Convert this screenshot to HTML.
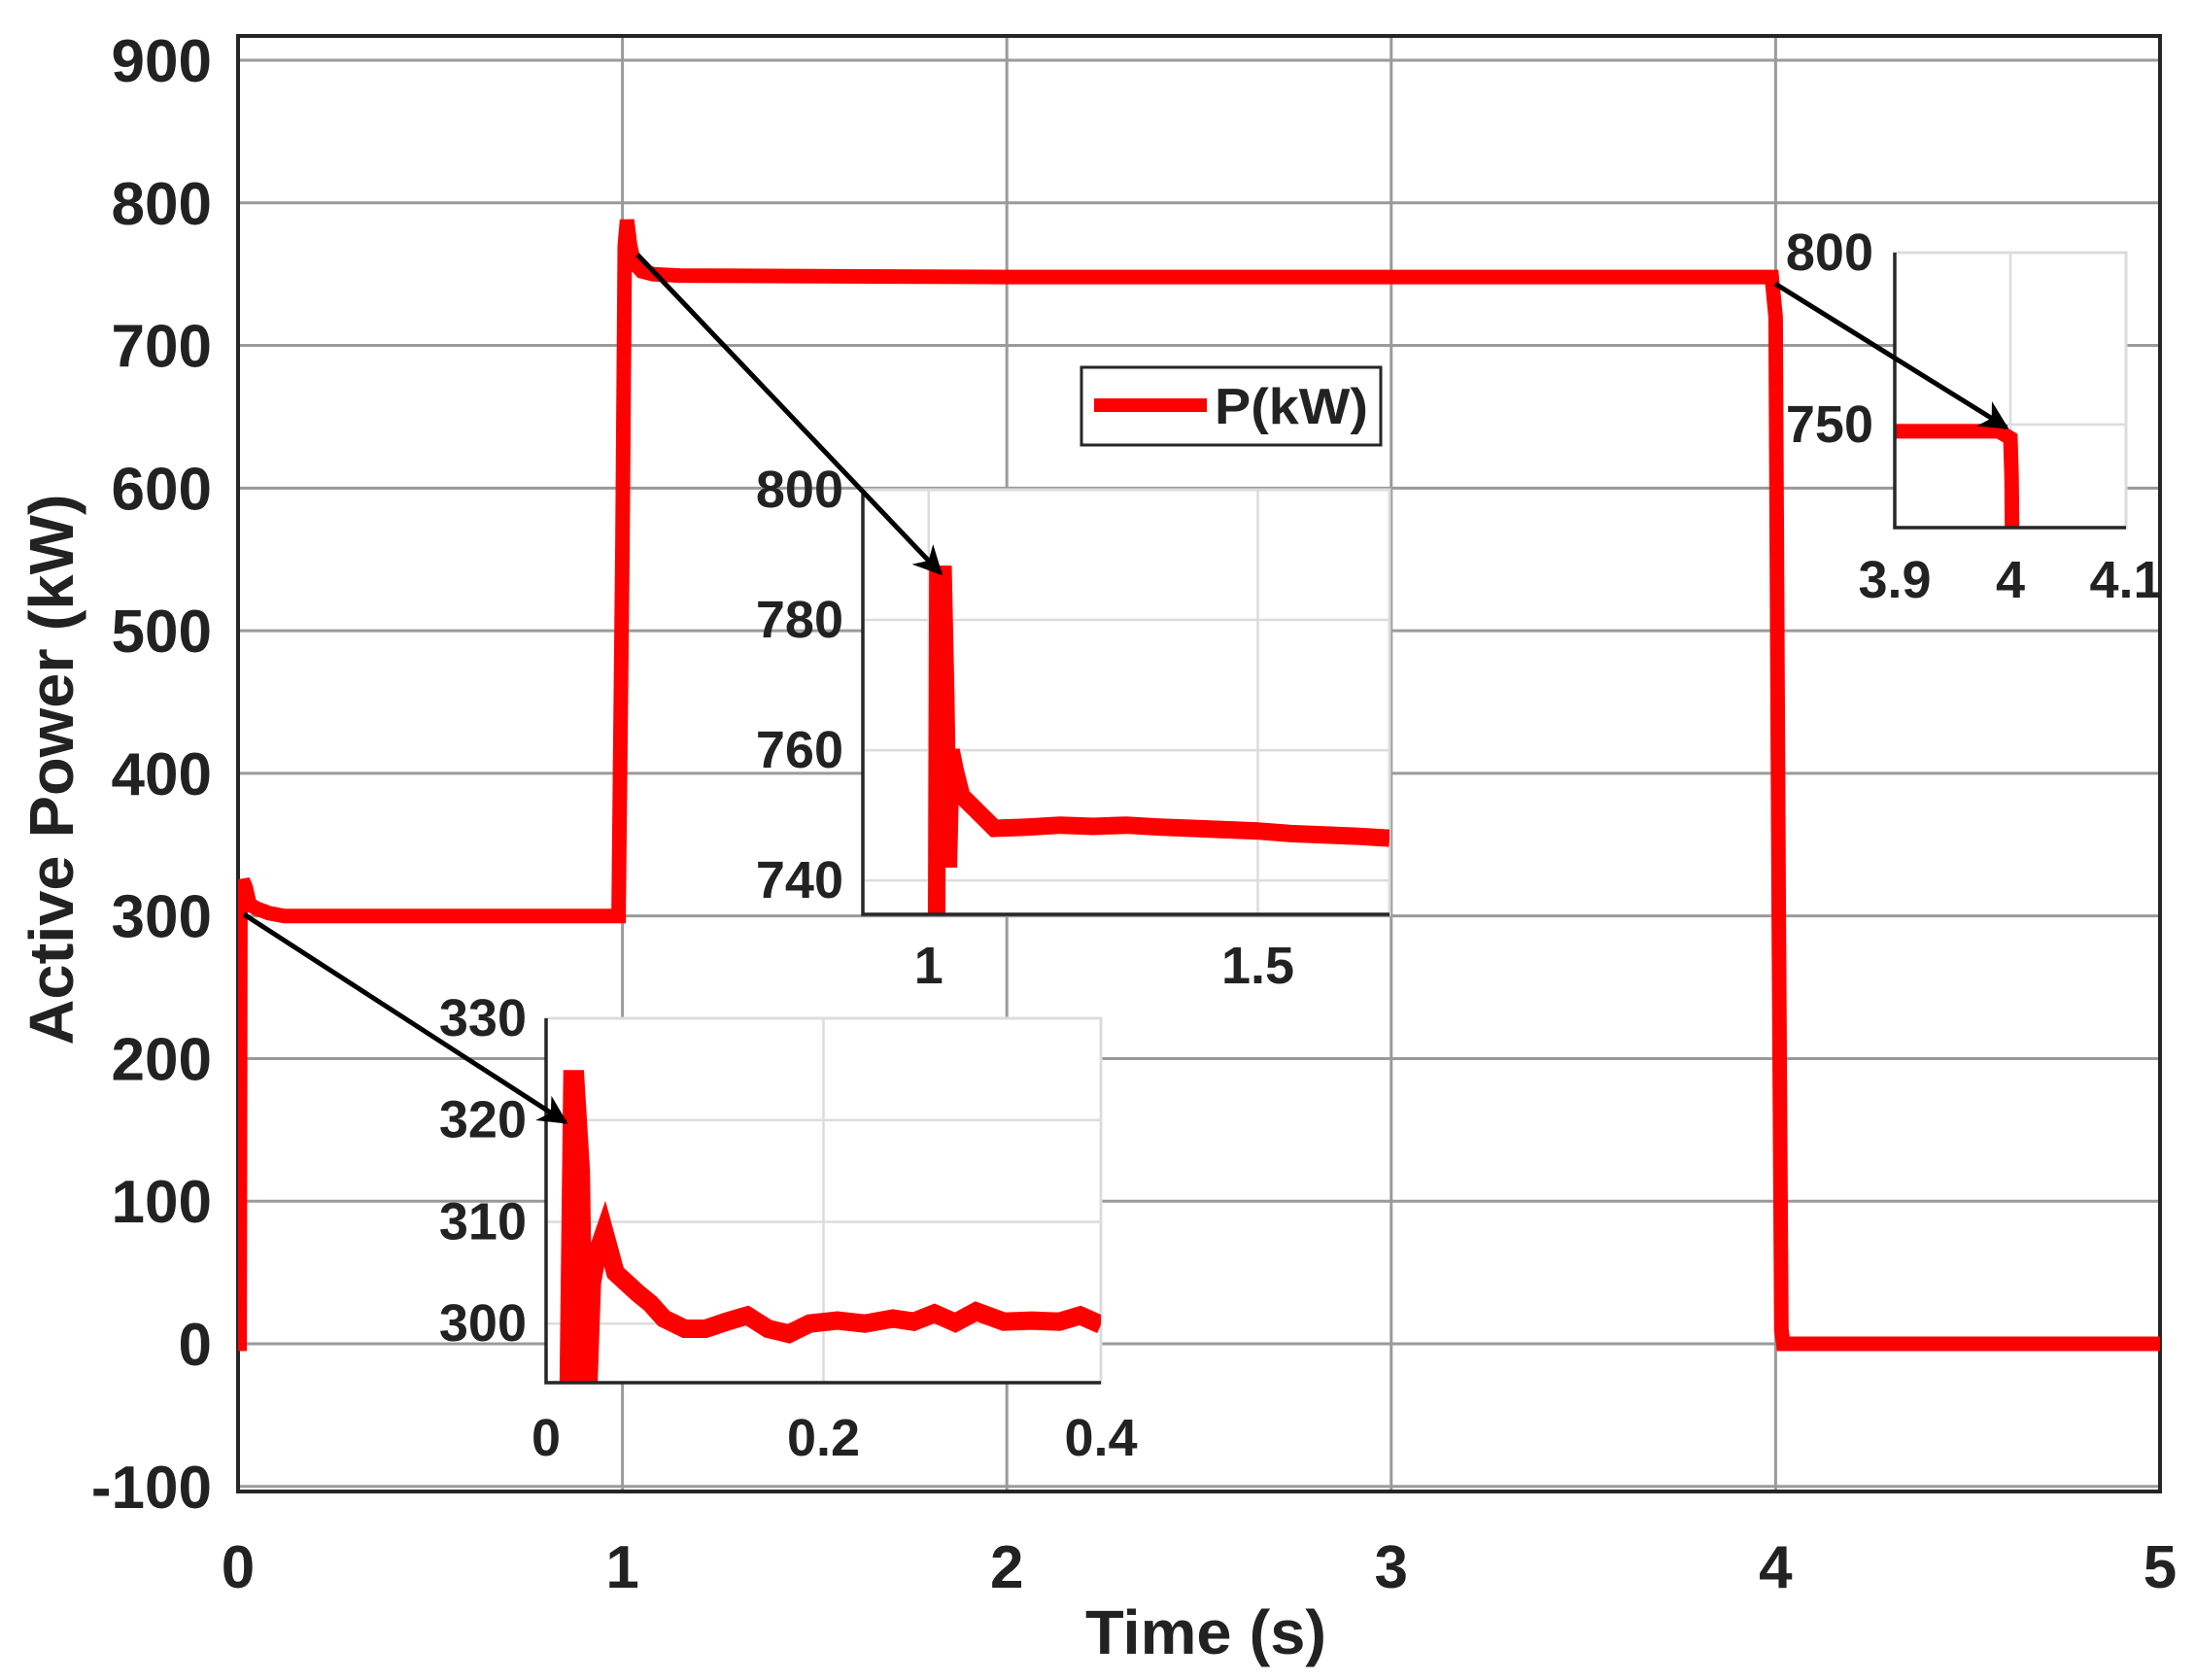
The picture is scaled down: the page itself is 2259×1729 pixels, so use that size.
<!DOCTYPE html>
<html><head><meta charset="utf-8"><style>
html,body{margin:0;padding:0;background:#fff}
svg{display:block}
text{font-family:"Liberation Sans",Arial,sans-serif;fill:#222}
</style></head><body>
<svg id="chart" width="2259" height="1729" viewBox="0 0 2259 1729" xmlns="http://www.w3.org/2000/svg">
<rect x="0" y="0" width="2259" height="1729" fill="#fff"/>
<defs>
<clipPath id="cMain"><rect x="245" y="37" width="1978" height="1498"/></clipPath>
<clipPath id="c1"><rect x="562" y="1048" width="571" height="375"/></clipPath>
<clipPath id="c2"><rect x="888" y="504" width="542" height="437"/></clipPath>
<clipPath id="c3"><rect x="1950" y="260" width="238" height="283"/></clipPath>
<marker id="arr" markerWidth="30" markerHeight="30" refX="9" refY="5" orient="auto" markerUnits="userSpaceOnUse" viewBox="0 0 10 10"><path d="M0,0 L10,5 L0,10 L3,5 Z" fill="#000"/></marker>
</defs>
<g id="layer"></g>
</svg>
<script>
// ---- main series data ----
const mainT = [0, 0.004, 0.006, 0.012, 0.02, 0.03, 0.05, 0.08, 0.12, 0.5, 0.99, 1.0, 1.006, 1.012, 1.02, 1.03, 1.05, 1.08, 1.15, 2.0, 3.0, 3.99, 4.0, 4.008, 4.015, 4.02, 5.0];
const mainP = [0, 0, 300, 325, 320, 308, 305, 302, 300, 300, 300, 560, 770, 788, 770, 758, 752, 750, 749, 748, 748, 748, 720, 300, 10, 0, 0];
const mainXTicks = [0, 1, 2, 3, 4, 5];
const mainYTicks = [-100, 0, 100, 200, 300, 400, 500, 600, 700, 800, 900];
// ---- inset 1 (0..0.4 s) ----
const in1T = [0.016, 0.019, 0.021, 0.025, 0.027, 0.03, 0.033, 0.037, 0.042, 0.046, 0.05, 0.058, 0.066, 0.075, 0.085, 0.1, 0.115, 0.13, 0.145, 0.16, 0.175, 0.19, 0.21, 0.23, 0.25, 0.265, 0.28, 0.295, 0.31, 0.33, 0.35, 0.37, 0.385, 0.4];
const in1P = [290, 324, 324, 315, 296, 292, 304, 307, 309, 307, 305, 304, 303, 302, 300.5, 299.5, 299.5, 300.2, 300.8, 299.5, 299, 300, 300.3, 300, 300.5, 300.2, 301, 300.1, 301.2, 300.2, 300.3, 300.2, 300.8, 299.9];
const in1XTicks = [0, 0.2, 0.4];
const in1YTicks = [300, 310, 320, 330];
// ---- inset 2 (0.9..1.7 s) ----
const in2T = [1.012, 1.014, 1.022, 1.026, 1.03, 1.034, 1.04, 1.05, 1.06, 1.07, 1.08, 1.1, 1.15, 1.2, 1.25, 1.3, 1.35, 1.4, 1.45, 1.5, 1.55, 1.6, 1.65, 1.7];
const in2P = [730, 787, 787, 768, 742, 760, 757, 753, 752, 751, 750, 748, 748.2, 748.5, 748.3, 748.5, 748.2, 748, 747.8, 747.6, 747.2, 747, 746.8, 746.5];
const in2XTicks = [1, 1.5];
const in2YTicks = [740, 760, 780, 800];
// ---- inset 3 (3.9..4.1 s) ----
const in3T = [3.9, 3.99, 4.0, 4.001, 4.002];
const in3P = [748, 748, 746, 735, 700];
const in3XTicks = [3.9, 4, 4.1];
const in3YTicks = [750, 800];

const NS = "http://www.w3.org/2000/svg";
const layer = document.getElementById('layer');
function mk(tag, attrs, parent) {
  const e = document.createElementNS(NS, tag);
  for (const k in attrs) e.setAttribute(k, attrs[k]);
  (parent || layer).appendChild(e);
  return e;
}
function scale(d0, d1, r0, r1) { return v => r0 + (v - d0) * (r1 - r0) / (d1 - d0); }

const mx = scale(0, 5, 245, 2223);
const my = scale(0, 900, 1383, 62);
const L = 245, R = 2223, T = 37, B = 1535;

mainYTicks.forEach(v => {
  const g = mk('line', {x1: L, x2: R, y1: my(v), y2: my(v), stroke: '#9a9a9a', 'stroke-width': 3});
  
  
  const t = mk('text', {x: 218, y: my(v) + 22, 'text-anchor': 'end', 'font-size': 62, 'font-weight': 'bold'});
  t.textContent = String(v);
  
  
});
mainXTicks.forEach(v => {
  const g = mk('line', {x1: mx(v), x2: mx(v), y1: T, y2: B, stroke: '#9a9a9a', 'stroke-width': 3});
  
  
  const t = mk('text', {x: mx(v), y: 1634, 'text-anchor': 'middle', 'font-size': 62, 'font-weight': 'bold'});
  t.textContent = String(v);
  
  
});
const frame = mk('rect', {x: L, y: T, width: R - L, height: B - T, fill: 'none', stroke: '#262626', 'stroke-width': 4});



function series(ts, ps, xs, ys, clip, w, name) {
  const d = ts.map((t, i) => (i ? 'L' : 'M') + xs(t).toFixed(1) + ',' + ys(ps[i]).toFixed(1)).join(' ');
  const p = mk('path', {d: d, fill: 'none', stroke: '#ff0000', 'stroke-width': w, 'stroke-linejoin': 'miter', 'clip-path': 'url(#' + clip + ')'});
  
  
}
series(mainT, mainP, mx, my, 'cMain', 15, 'power-line');

const xl = mk('text', {x: 1241, y: 1702, 'text-anchor': 'middle', 'font-size': 64, 'font-weight': 'bold', textLength: 248, lengthAdjust: 'spacingAndGlyphs'});
xl.textContent = 'Time (s)';


const yl = mk('text', {x: 0, y: 0, 'text-anchor': 'middle', 'font-size': 64, 'font-weight': 'bold', textLength: 567, lengthAdjust: 'spacingAndGlyphs', transform: 'translate(75,792) rotate(-90)'});
yl.textContent = 'Active Power (kW)';



const lg = mk('rect', {x: 1113, y: 378, width: 308, height: 80, fill: '#fff', stroke: '#262626', 'stroke-width': 3});


const ll = mk('line', {x1: 1126, x2: 1242, y1: 417, y2: 417, stroke: '#ff0000', 'stroke-width': 14});


const lt = mk('text', {x: 1250, y: 436, 'font-size': 52, 'font-weight': 'bold', textLength: 158, lengthAdjust: 'spacingAndGlyphs'});
lt.textContent = 'P(kW)';



function inset(cfg) {
  const {l, r, t, b, x0, x1, y0, y1, xt, yt, ts, ps, clip, name, ylx, xly, fs, w} = cfg;
  const xs = scale(x0, x1, l, r), ys = scale(y0, y1, b, t);
  const bg = mk('rect', {x: l, y: t, width: r - l, height: b - t, fill: '#fff', stroke: '#dcdcdc', 'stroke-width': 3});
  
  
  yt.forEach(v => {
    const g = mk('line', {x1: l, x2: r, y1: ys(v), y2: ys(v), stroke: '#dcdcdc', 'stroke-width': 2.5});
    
    
    const tx = mk('text', {x: ylx, y: ys(v) + 18, 'text-anchor': 'end', 'font-size': fs, 'font-weight': 'bold'});
    tx.textContent = String(v);
    
    
  });
  xt.forEach(v => {
    const g = mk('line', {x1: xs(v), x2: xs(v), y1: t, y2: b, stroke: '#dcdcdc', 'stroke-width': 2.5});
    
    
    const tx = mk('text', {x: xs(v), y: xly, 'text-anchor': 'middle', 'font-size': fs, 'font-weight': 'bold'});
    tx.textContent = String(v);
    
    
  });
  series(ts, ps, xs, ys, clip, w, name + '-line');
  const ax = mk('path', {d: `M${l},${t} L${l},${b} L${r},${b}`, fill: 'none', stroke: '#262626', 'stroke-width': 3.5});
  
  
}
inset({l: 562, r: 1133, t: 1048, b: 1423, x0: 0, x1: 0.4, y0: 294.2, y1: 330, xt: in1XTicks, yt: in1YTicks, ts: in1T, ps: in1P, clip: 'c1', name: 'inset-start', ylx: 542, xly: 1498, fs: 54, w: 19});
inset({l: 888, r: 1430, t: 504, b: 941, x0: 0.9, x1: 1.7, y0: 734.8, y1: 800, xt: in2XTicks, yt: in2YTicks, ts: in2T, ps: in2P, clip: 'c2', name: 'inset-step', ylx: 868, xly: 1012, fs: 54, w: 18});
inset({l: 1950, r: 2188, t: 260, b: 543, x0: 3.9, x1: 4.1, y0: 720, y1: 800, xt: in3XTicks, yt: in3YTicks, ts: in3T, ps: in3P, clip: 'c3', name: 'inset-drop', ylx: 1928, xly: 615, fs: 54, w: 15});

[[251, 941, 582, 1155], [656, 262, 968, 590], [1827, 292, 2065, 440]].forEach(a => {
  const e = mk('line', {x1: a[0], y1: a[1], x2: a[2], y2: a[3], stroke: '#000', 'stroke-width': 5, 'marker-end': 'url(#arr)'});
  
  
});
</script>
</body></html>
